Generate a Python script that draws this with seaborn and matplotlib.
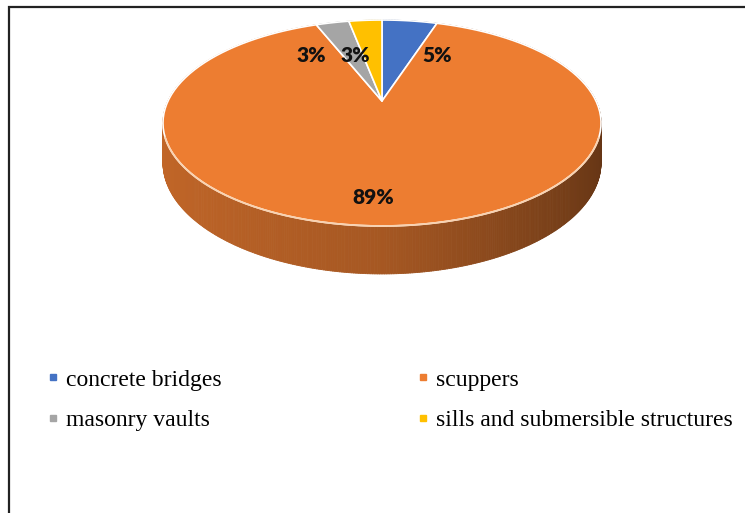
import numpy as np
import matplotlib.pyplot as plt
import seaborn as sns
from matplotlib.patches import Polygon, Rectangle
from matplotlib.collections import PolyCollection
from matplotlib.lines import Line2D
from matplotlib.colors import to_rgb

categories = ["concrete bridges", "scuppers", "masonry vaults",
              "sills and submersible structures"]
shares = [5, 89, 3, 3]
pct_labels = ["5%", "89%", "3%", "3%"]
palette = ["#4472C4", "#ED7D31", "#A5A5A5", "#FFC000"]

sns.set_style("white")
plt.rcParams["font.family"] = ["Lato", "DejaVu Sans"]

fig = plt.figure(figsize=(7.45, 5.13), dpi=100)
ax = fig.add_axes([0, 0, 1, 1])
ax.set_xlim(0, 745)
ax.set_ylim(513, 0)
ax.axis("off")

# tilted disc seen in perspective (Excel-like 3D pie)
cx, cy = 382, 101
A, B, k = 214, 98.3, 0.2136
depth = 37.7


def proj(phi, rho=1.0):
    u = rho * np.sin(phi)
    v = rho * np.cos(phi)
    w = 1 + k * v
    return cx + A * u / w, cy - B * v / w, w


frac = np.cumsum([0] + shares) / sum(shares)
edges = 2 * np.pi * frac

# side of the pie, drawn back to front in thin strips
phi = np.linspace(0, 2 * np.pi, 721)
xs, ys, ws = proj(phi)
yb = ys + depth / ws
polys, cols, order = [], [], []
for i in range(len(phi) - 1):
    mid = 0.5 * (phi[i] + phi[i + 1])
    idx = np.searchsorted(edges, mid) - 1
    base = np.array(to_rgb(palette[idx]))
    u = np.sin(mid)
    shade = 0.70 - 0.12 * u - 0.16 * max(u, 0)
    polys.append([(xs[i], ys[i]), (xs[i + 1], ys[i + 1]),
                  (xs[i + 1], yb[i + 1]), (xs[i], yb[i])])
    cols.append(np.clip(base * shade, 0, 1))
    order.append(-np.cos(mid))
srt = np.argsort(order)
side = PolyCollection([polys[j] for j in srt], facecolors=[cols[j] for j in srt],
                      edgecolors=[cols[j] for j in srt], linewidths=0.6)
ax.add_collection(side)

# top face wedges
for i, c in enumerate(palette):
    t = np.linspace(edges[i], edges[i + 1], 120)
    px, py, _ = proj(t)
    pts = [(cx, cy)] + list(zip(px, py))
    ax.add_patch(Polygon(pts, closed=True, facecolor=c, edgecolor="white",
                         linewidth=1.2, joinstyle="round"))

# light rim highlight on the front edge
t = np.linspace(np.radians(110), np.radians(250), 200)
px, py, _ = proj(t)
ax.plot(px, py, color="#F9D2B0", lw=1.3, solid_capstyle="round")

# percentage labels
label_xy = [(437, 55), (373, 197), (311, 55), (355, 55)]
for (lx, ly), s in zip(label_xy, pct_labels):
    ax.text(lx, ly, s, ha="center", va="center", fontsize=15,
            fontweight="heavy", color="#111111")

# legend laid out row-wise like the original
handles = [Line2D([], [], marker="s", ls="", color=c, markersize=4.5)
           for c in palette]
order_leg = [0, 2, 1, 3]
leg = ax.legend([handles[i] for i in order_leg], [categories[i] for i in order_leg],
                ncol=2, loc="upper left", bbox_to_anchor=(47 / 745, 1 - 369 / 513),
                frameon=False, borderpad=0, borderaxespad=0, handlelength=0.5,
                handletextpad=0.3, labelspacing=0.8, columnspacing=8.3,
                prop={"family": "Liberation Serif", "size": 17})
for txt in leg.get_texts():
    txt.set_color("black")

# chart border
fig.patches.append(Rectangle((8.5 / 745, -0.1), 1.2, 1.1 - 7.5 / 513,
                             transform=fig.transFigure, fill=False,
                             edgecolor="#222222", linewidth=1.6))

fig.savefig("out.png", dpi=100)
